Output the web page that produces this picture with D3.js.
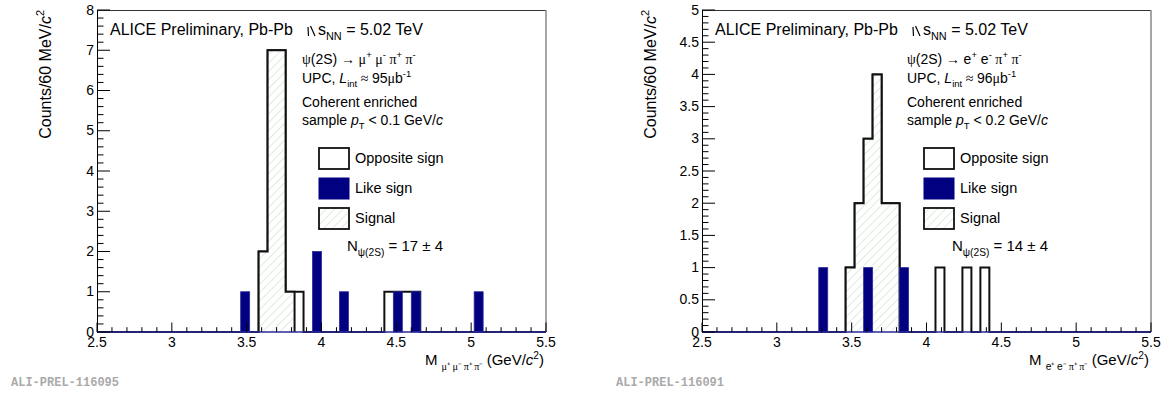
<!DOCTYPE html>
<html>
<head>
<meta charset="utf-8">
<title>psi(2S) invariant mass, ALICE UPC Pb-Pb</title>
<script src="https://d3js.org/d3.v7.min.js"></script>
<style>
  body { margin: 0; background: #fff; }
  svg { display: block; font-family: "Liberation Sans", Arial, sans-serif; }
  text { white-space: pre; }
</style>
</head>
<body>
<svg id="chart" width="1163" height="399"></svg>
<script>
// ---- data (bin lower edges in GeV/c^2, 60 MeV bins) ----
const massRange = [2.5, 5.5];
const binWidth = 0.06;

// left: psi(2S) -> mu+ mu- pi+ pi-
const muOppositeBins   = [3.58, 3.64, 3.70, 3.76, 3.82, 4.42, 4.48, 4.54, 4.60];
const muOppositeCounts = [2, 7, 7, 1, 1, 1, 1, 1, 1];
const muLikeBins       = [3.46, 3.94, 4.12, 4.48, 4.60, 5.02];
const muLikeCounts     = [1, 2, 1, 1, 1, 1];
const muSignalBins     = [3.58, 3.64, 3.70, 3.76];
const muSignalCounts   = [2, 7, 7, 1];

// right: psi(2S) -> e+ e- pi+ pi-
const eOppositeBins   = [3.46, 3.52, 3.58, 3.64, 3.70, 3.76, 4.06, 4.24, 4.36];
const eOppositeCounts = [1, 2, 3, 4, 2, 2, 1, 1, 1];
const eLikeBins       = [3.28, 3.58, 3.82];
const eLikeCounts     = [1, 1, 1];
const eSignalBins     = [3.46, 3.52, 3.58, 3.64, 3.70, 3.76];
const eSignalCounts   = [1, 2, 3, 4, 2, 2];

const xTicks = [2.5, 3, 3.5, 4, 4.5, 5, 5.5];
const leftYTicks = [0, 1, 2, 3, 4, 5, 6, 7, 8];
const rightYTicks = [0, 0.5, 1, 1.5, 2, 2.5, 3, 3.5, 4, 4.5, 5];

const navy = "#000080";
const serif = "'Liberation Serif', 'Times New Roman', serif";

const svg = d3.select("#chart");

const defs = svg.append("defs");
const hatch = defs.append("pattern")
    .attr("id", "hatch")
    .attr("patternUnits", "userSpaceOnUse")
    .attr("width", 6).attr("height", 6)
    .attr("patternTransform", "rotate(45)");
hatch.append("rect").attr("width", 6).attr("height", 6).attr("fill", "#fff");
hatch.append("line")
    .attr("x1", 0).attr("y1", 0).attr("x2", 0).attr("y2", 6)
    .attr("stroke", "#b9dbb9").attr("stroke-width", 1);

// text with sub/superscripts: parts = [text, mode, font, style]
function rich(sel, x, y, size, parts, anchor) {
  const t = sel.append("text")
      .attr("x", x).attr("y", y)
      .attr("font-size", size)
      .attr("text-anchor", anchor || "start");
  let off = 0;
  parts.forEach(p => {
    const [txt, mode, font, style] = p;
    const target = mode === "sub" ? size * 0.3 : mode === "sup" ? -size * 0.42 : 0;
    const ts = t.append("tspan").attr("dy", target - off).text(txt);
    off = target;
    if (mode) ts.attr("font-size", size * 0.68);
    if (font) ts.attr("font-family", font);
    if (style) ts.attr("font-style", style);
  });
  return t;
}

// expand sparse bins into a full histogram array
function fullHist(bins, counts) {
  const n = Math.round((massRange[1] - massRange[0]) / binWidth);
  const h = new Array(n).fill(0);
  bins.forEach((b, i) => { h[Math.round((b - massRange[0]) / binWidth)] = counts[i]; });
  return h;
}

function stepPath(x, y, bins, counts) {
  const pts = [];
  bins.forEach((b, i) => {
    pts.push([x(b), y(counts[i])]);
    pts.push([x(b + binWidth), y(counts[i])]);
  });
  return pts;
}

function drawPanel(cfg) {
  const left = cfg.left, right = cfg.left + 449, top = 10, bottom = 332;
  const g = svg.append("g");
  const x = d3.scaleLinear().domain(massRange).range([left, right]);
  const y = d3.scaleLinear().domain([0, cfg.yMax]).range([bottom, top]);

  // opposite sign histogram (full range, white fill)
  const os = fullHist(cfg.osBins, cfg.osCounts);
  const osEdges = os.map((_, i) => massRange[0] + i * binWidth);
  const osPts = stepPath(x, y, osEdges, os);
  g.append("path")
      .attr("d", d3.line()([[x(massRange[0]), y(0)], ...osPts, [x(massRange[1]), y(0)]]))
      .attr("fill", "#fff").attr("stroke", "#111").attr("stroke-width", 2);

  // signal (hatched)
  const sigPts = stepPath(x, y, cfg.sigBins, cfg.sigCounts);
  const s0 = cfg.sigBins[0], s1 = cfg.sigBins[cfg.sigBins.length - 1] + binWidth;
  g.append("path")
      .attr("d", d3.line()([[x(s0), y(0)], ...sigPts, [x(s1), y(0)]]))
      .attr("fill", "url(#hatch)").attr("stroke", "#111").attr("stroke-width", 2);

  // like sign (filled navy bars + baseline)
  g.selectAll(".ls").data(cfg.lsBins).join("rect")
      .attr("x", d => x(d))
      .attr("width", x(massRange[0] + binWidth) - x(massRange[0]))
      .attr("y", (d, i) => y(cfg.lsCounts[i]))
      .attr("height", (d, i) => y(0) - y(cfg.lsCounts[i]))
      .attr("fill", navy).attr("stroke", "#2a2a9a").attr("stroke-width", 0.8);

  // frame
  g.append("line").attr("x1", left).attr("x2", right).attr("y1", top + 0.5).attr("y2", top + 0.5)
      .attr("stroke", "#333").attr("stroke-width", 1);
  g.append("line").attr("x1", right).attr("x2", right).attr("y1", top).attr("y2", bottom)
      .attr("stroke", "#888").attr("stroke-width", 1.5);
  g.append("line").attr("x1", left + 0.5).attr("x2", left + 0.5).attr("y1", top).attr("y2", bottom)
      .attr("stroke", "#000").attr("stroke-width", 1);
  g.append("line").attr("x1", left).attr("x2", right).attr("y1", bottom).attr("y2", bottom)
      .attr("stroke", "#2a2a9a").attr("stroke-width", 1.5);

  // x ticks: major 0.5, minor 0.1
  const xMinor = d3.range(25, 56).map(v => v / 10);
  g.selectAll(".xt").data(xMinor).join("line")
      .attr("x1", d => x(d)).attr("x2", d => x(d))
      .attr("y1", bottom)
      .attr("y2", d => bottom - (Math.abs(d * 2 - Math.round(d * 2)) < 1e-6 ? 9.5 : 4.8))
      .attr("stroke", "#000").attr("stroke-width", 1);
  g.selectAll(".xl").data(xTicks).join("text")
      .attr("x", d => x(d)).attr("y", 347)
      .attr("text-anchor", "middle").attr("font-size", 14)
      .text(d => d);

  // y ticks
  const yMinor = d3.range(0, Math.round(cfg.yMax / cfg.yMinorStep) + 1).map(i => i * cfg.yMinorStep);
  g.selectAll(".yt").data(yMinor).join("line")
      .attr("x1", left).attr("x2", (d, i) => left + (i % 5 === 0 ? 13 : 6.5))
      .attr("y1", d => y(d)).attr("y2", d => y(d))
      .attr("stroke", "#000").attr("stroke-width", 1);
  g.selectAll(".yl").data(cfg.yTicks).join("text")
      .attr("x", left - 3).attr("y", d => y(d)).attr("dy", "0.33em")
      .attr("text-anchor", "end").attr("font-size", 14)
      .text(d => d);

  // axis titles
  rich(g, 0, 0, 16, [["Counts/60 MeV/"], ["c", "", null, "italic"], ["2", "sup"]], "end")
      .attr("transform", `translate(${left - 46},${top}) rotate(-90)`);
  rich(g, right - 2, 365, 15, [["M "], ...cfg.xSub.map(s => [s[0], "sub", s[1]]),
      [" (GeV/", ""], ["c", "", null, "italic"], ["2", "sup"], [")", ""]], "end");

  g.append("text").attr("x", cfg.left - 86).attr("y", 386)
      .attr("font-family", "'Liberation Mono', 'Courier New', monospace")
      .attr("font-weight", "bold").attr("font-size", 12).attr("fill", "#aaa")
      .text(cfg.tag);

  // labels
  const tx = left + 13;
  g.append("text").attr("x", tx).attr("y", 35).attr("font-size", 16).text("ALICE Preliminary, Pb-Pb");
  const rx = left + 211;
  g.append("path")
      .attr("d", `M${rx},27 L${rx + 0.5},36 M${rx + 2.5},26 L${rx + 7},36`)
      .attr("stroke", "#000").attr("stroke-width", 1.2).attr("fill", "none");
  rich(g, rx + 10, 35, 16, [["s"], ["NN", "sub"], [" = 5.02 TeV", ""]]);

  const lx = left + 205;
  rich(g, lx, 64, 14, [["\u03c8", "", serif], ["(2S) "], ["\u2192 ", "", serif], ...cfg.decay]);
  rich(g, lx, 83, 14, [["UPC, "], ["L", "", null, "italic"], ["int", "sub"], [" \u2248 ", "", serif],
      [cfg.lumi, ""], ["\u03bc", "", serif], ["b"], ["-1", "sup"]]);
  g.append("text").attr("x", lx).attr("y", 107).attr("font-size", 14).text("Coherent enriched");
  rich(g, lx, 125, 14, [["sample "], ["p", "", null, "italic"], ["T", "sub"], [` < ${cfg.ptCut} GeV/`, ""],
      ["c", "", null, "italic"]]);

  // legend
  const legend = [["Opposite sign", "#fff"], ["Like sign", navy], ["Signal", "url(#hatch)"]];
  legend.forEach((d, i) => {
    const ly = 148 + i * 30;
    g.append("rect").attr("x", left + 222).attr("y", ly).attr("width", 30).attr("height", 21)
        .attr("fill", d[1]).attr("stroke", i === 1 ? navy : "#111").attr("stroke-width", i === 1 ? 1 : 1.8);
    g.append("text").attr("x", left + 258).attr("y", ly + 15).attr("font-size", 14.5).text(d[0]);
  });
  rich(g, left + 250, 251, 15, [["N"], ["\u03c8(2S)", "sub"], [` = ${cfg.nSig} \u00b1 4`, ""]]);
}

const sup = (t, s) => [[t, "", serif], [s, "sup"]];

drawPanel({
  left: 97, yMax: 8, yMinorStep: 0.2, yTicks: leftYTicks,
  osBins: muOppositeBins, osCounts: muOppositeCounts,
  lsBins: muLikeBins, lsCounts: muLikeCounts,
  sigBins: muSignalBins, sigCounts: muSignalCounts,
  decay: [...sup("\u03bc", "+"), ...sup(" \u03bc", "-"), ...sup(" \u03c0", "+"), ...sup(" \u03c0", "-")],
  xSub: [["\u03bc\u207a \u03bc\u207b \u03c0\u207a \u03c0\u207b", serif]],
  lumi: "95", ptCut: "0.1", nSig: 17, tag: "ALI-PREL-116095"
});

drawPanel({
  left: 702, yMax: 5, yMinorStep: 0.1, yTicks: rightYTicks,
  osBins: eOppositeBins, osCounts: eOppositeCounts,
  lsBins: eLikeBins, lsCounts: eLikeCounts,
  sigBins: eSignalBins, sigCounts: eSignalCounts,
  decay: [["e"], ["+", "sup"], [" e", ""], ["-", "sup"], ...sup(" \u03c0", "+"), ...sup(" \u03c0", "-")],
  xSub: [["e\u207a e\u207b ", null], ["\u03c0\u207a \u03c0\u207b", serif]],
  lumi: "96", ptCut: "0.2", nSig: 14, tag: "ALI-PREL-116091"
});
</script>
</body>
</html>
